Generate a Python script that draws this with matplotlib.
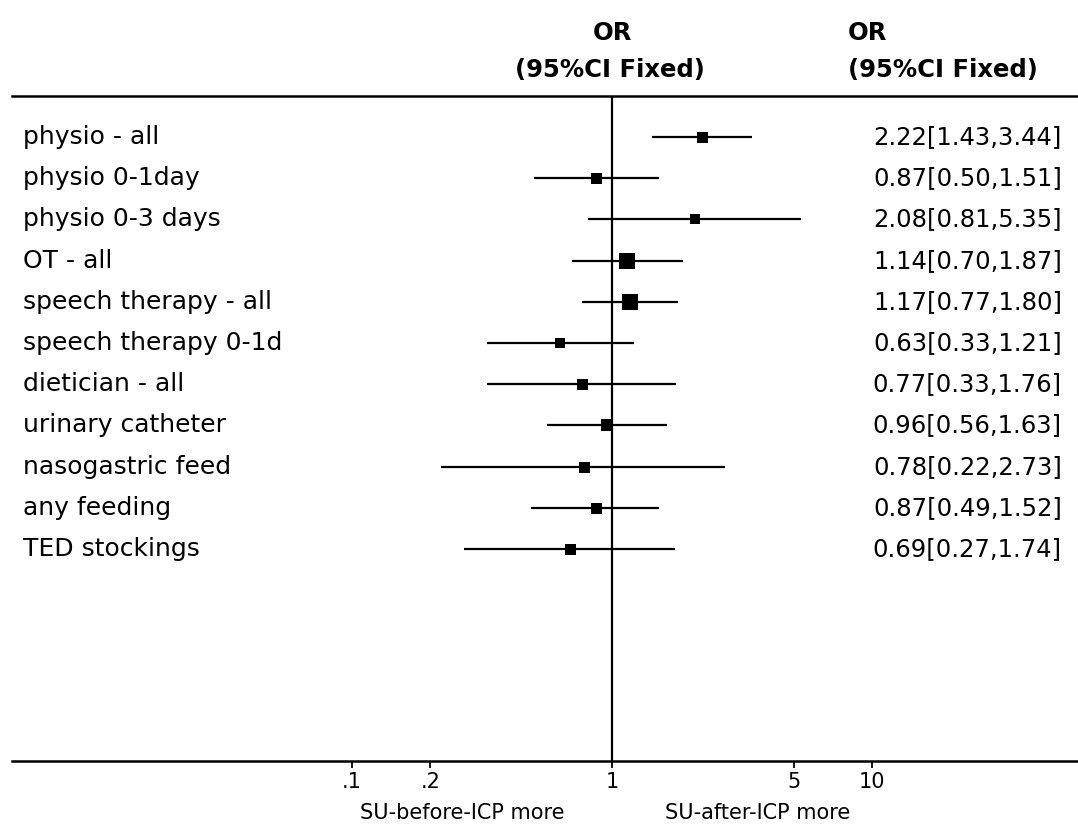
import numpy as np
import matplotlib.pyplot as plt
import matplotlib.transforms as mtransforms

# forest plot: odds ratios with 95% CI
labels = ['physio - all', 'physio 0-1day', 'physio 0-3 days', 'OT - all',
          'speech therapy - all', 'speech therapy 0-1d', 'dietician - all',
          'urinary catheter', 'nasogastric feed', 'any feeding', 'TED stockings']
OR = [2.22, 0.87, 2.08, 1.14, 1.17, 0.63, 0.77, 0.96, 0.78, 0.87, 0.69]
lo = [1.43, 0.50, 0.81, 0.70, 0.77, 0.33, 0.33, 0.56, 0.22, 0.49, 0.27]
hi = [3.44, 1.51, 5.35, 1.87, 1.80, 1.21, 1.76, 1.63, 2.73, 1.52, 1.74]
box = [11, 11, 10.5, 16, 16, 10, 11, 12, 11, 11, 11]   # marker size in px
ticks = [0.1, 0.2, 1, 5, 10]
ticklabels = ['.1', '.2', '1', '5', '10']

W, H = 1078, 826
fig = plt.figure(figsize=(W / 100, H / 100), dpi=100)
plt.rcParams['font.family'] = ['DejaVu Sans']

# axes between the two horizontal rules
x0, x1 = 12, 1078
ytop, ybot = 96, 761
ax = fig.add_axes([x0 / W, 1 - ybot / H, (x1 - x0) / W, (ybot - ytop) / H])
ax.set_xscale('log')
ppd = 260.0  # px per decade
ax.set_xlim(10 ** ((x0 - 612) / ppd), 10 ** ((x1 - 612) / ppd))
row0, dy = 137, 41.2
ax.set_ylim((ybot - row0) / dy, (ytop - row0) / dy)

y = np.arange(len(labels))
for i in range(len(labels)):
    ax.plot([lo[i], hi[i]], [y[i], y[i]], color='black', lw=1.6, solid_capstyle='butt')
    ax.plot(OR[i], y[i], marker='s', color='black', ms=box[i] * 0.72, mew=0)
ax.axvline(1, color='black', lw=1.6)

for s in ['left', 'right']:
    ax.spines[s].set_visible(False)
ax.spines['top'].set_linewidth(1.8)
ax.spines['bottom'].set_linewidth(1.8)
ax.set_yticks([])
ax.set_xticks(ticks)
ax.set_xticklabels(ticklabels, fontsize=15)
ax.minorticks_off()
ax.tick_params(axis='x', direction='out', length=5, width=1.3, pad=3)

trans = mtransforms.blended_transform_factory(fig.transFigure, ax.transData)
for i in range(len(labels)):
    ax.text(23 / W, y[i], labels[i], transform=trans, ha='left', va='center', fontsize=18)
    ax.text(1062 / W, y[i], '%.2f[%.2f,%.2f]' % (OR[i], lo[i], hi[i]),
            transform=trans, ha='right', va='center', fontsize=17.5)

fig.text(612 / W, 1 - 40 / H, 'OR', ha='center', va='baseline', fontsize=17.5, fontweight='bold')
fig.text(610 / W, 1 - 77 / H, '(95%CI Fixed)', ha='center', va='baseline', fontsize=17.5, fontweight='bold')
fig.text(848 / W, 1 - 40 / H, 'OR', ha='left', va='baseline', fontsize=17.5, fontweight='bold')
fig.text(848 / W, 1 - 77 / H, '(95%CI Fixed)', ha='left', va='baseline', fontsize=17.5, fontweight='bold')

fig.text(462 / W, 1 - 813 / H, 'SU-before-ICP more', ha='center', va='center', fontsize=15)
fig.text(758 / W, 1 - 813 / H, 'SU-after-ICP more', ha='center', va='center', fontsize=15)

fig.savefig('out.png', dpi=100)
